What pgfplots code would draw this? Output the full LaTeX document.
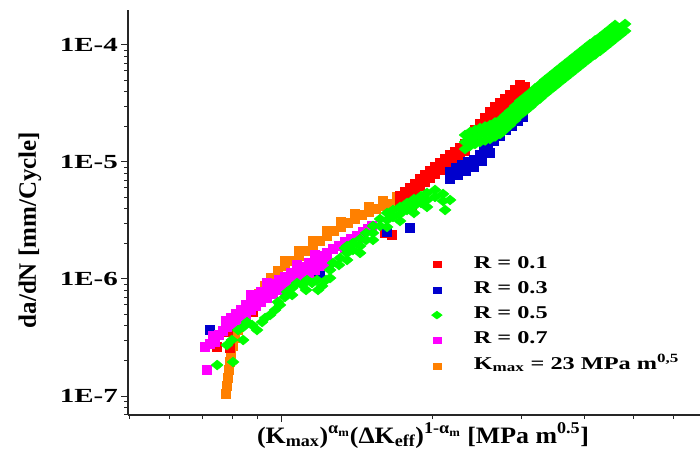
\documentclass[border=0pt]{standalone}
\usepackage{fontspec}
\setmainfont{Liberation Serif}
\usepackage{graphicx}
\usepackage{pgfplots}
\pgfplotsset{compat=1.18}
\definecolor{cred}{RGB}{255,0,0}
\definecolor{cblue}{RGB}{0,0,205}
\definecolor{cgreen}{RGB}{0,255,0}
\definecolor{cmag}{RGB}{255,0,255}
\definecolor{corange}{RGB}{255,128,0}
\newcommand{\tklab}[1]{\scalebox{1.45}[1]{\fontsize{20}{22}\selectfont\bfseries #1}}
\newcommand{\legtxt}[1]{\scalebox{1.35}[1]{\fontsize{18}{20}\selectfont\bfseries #1}}
\begin{document}
\begin{tikzpicture}
\useasboundingbox (0,0) rectangle (700pt,451pt);
\begin{axis}[
  at={(128pt,36pt)}, anchor=south west,
  scale only axis, width=572pt, height=405pt,
  xmode=log, ymode=log,
  xmin=4.97, xmax=67.8, ymin=6.88e-8, ymax=1.99e-4,
  axis lines=left, axis line style={-, line width=1.1pt, black!85},
  tick align=outside, major tick length=7pt, minor tick length=4pt,
  every tick/.style={line width=1pt, black!85},
  xtick={10}, minor xtick={5,6,7,8,9,20,30,40,50,60},
  xticklabels={},
  ytick={1e-7,1e-6,1e-5,1e-4},
  minor ytick={7e-8,8e-8,9e-8,2e-7,3e-7,4e-7,5e-7,6e-7,7e-7,8e-7,9e-7,2e-6,3e-6,4e-6,5e-6,6e-6,7e-6,8e-6,9e-6,2e-5,3e-5,4e-5,5e-5,6e-5,7e-5,8e-5,9e-5},
  yticklabels={\tklab{1E-7},\tklab{1E-6},\tklab{1E-5},\tklab{1E-4}},
  yticklabel style={anchor=east, inner sep=0pt, xshift=-3pt},
  xlabel={\scalebox{1.1}[1]{\fontsize{23.5}{26}\selectfont\bfseries (K\textsubscript{max})\textsuperscript{α\textsubscript{m}}(ΔK\textsubscript{eff})\textsuperscript{1-α\textsubscript{m}} [MPa m\textsuperscript{0.5}]}},
  xlabel style={at={(axis description cs:0.5157,-0.0691)}, anchor=base, inner sep=0pt},
  ylabel={\fontsize{25}{28}\selectfont\bfseries da/dN [mm/Cycle]},
  ylabel style={at={(axis description cs:-0.1713,0.4568)}, anchor=center, inner sep=0pt},
  legend style={at={(axis description cs:0.5306,0.3926)}, anchor=north west, draw=none, fill=none,
    inner sep=0pt, outer sep=0pt, row sep=8.3pt, column sep=31.5pt,
    nodes={inner sep=0pt, text height=12pt, text depth=5pt}},
  legend cell align=left,
]
\addlegendimage{only marks, mark=square*, mark size=3pt, color=cred, mark options={xscale=1.4}}
\addlegendentry{\legtxt{R = 0.1}}
\addlegendimage{only marks, mark=square*, mark size=3pt, color=cblue, mark options={xscale=1.4}}
\addlegendentry{\legtxt{R = 0.3}}
\addlegendimage{only marks, mark=diamond*, mark size=4pt, color=cgreen, mark options={xscale=1.8}}
\addlegendentry{\legtxt{R = 0.5}}
\addlegendimage{only marks, mark=square*, mark size=3pt, color=cmag, mark options={xscale=1.4}}
\addlegendentry{\legtxt{R = 0.7}}
\addlegendimage{only marks, mark=square*, mark size=3pt, color=corange, mark options={xscale=1.4}}
\addlegendentry{\legtxt{K\textsubscript{max} = 23 MPa m\textsuperscript{0,5}}}

% K_max = 23 MPa m^0.5
\addplot[only marks, mark=square*, mark size=4.5pt, color=corange, forget plot] coordinates {
(7.78,1.040e-7) (7.81,1.218e-7) (7.85,1.425e-7) (7.88,1.668e-7) (7.92,1.953e-7)
(7.96,2.286e-7) (8.03,2.676e-7) (8.11,3.131e-7) (8.22,3.665e-7) (8.37,4.375e-7)
(8.56,5.223e-7) (8.80,6.235e-7) (9.04,7.443e-7) (9.30,8.713e-7) (9.55,1.020e-6)
(9.86,1.171e-6) (10.18,1.292e-6) (10.52,1.425e-6) (10.86,1.573e-6) (11.21,1.735e-6)
(11.57,1.915e-6) (11.95,2.113e-6) (12.34,2.331e-6) (12.74,2.572e-6) (13.15,2.782e-6)
(13.58,3.010e-6) (14.02,3.256e-6) (14.48,3.523e-6) (14.95,3.736e-6) (15.43,3.964e-6)
(15.93,4.205e-6) (16.45,4.375e-6) (16.99,4.551e-6) (17.46,4.734e-6)
(10.18,1.447e-6) (10.86,1.762e-6) (11.57,2.145e-6) (12.34,2.611e-6) (13.15,3.116e-6)
(14.02,3.647e-6) (14.95,4.184e-6) (15.93,4.710e-6) (16.99,5.097e-6)
};
% R = 0.1
\addplot[only marks, mark=square*, mark size=4.5pt, color=cred, forget plot] coordinates {
(7.47,2.623e-7) (7.85,3.523e-7) (7.92,2.571e-7) (8.14,4.288e-7) (8.80,5.223e-7)
(11.79,1.148e-6) (16.08,2.473e-6) (16.61,2.378e-6) (18.19,4.290e-6)
(17.22,4.462e-6) (17.62,4.829e-6) (18.03,5.224e-6) (18.45,5.705e-6) (18.87,6.236e-6)
(19.31,6.746e-6) (19.75,7.298e-6) (20.21,7.897e-6) (20.68,8.543e-6) (21.16,9.244e-6)
(21.64,1.000e-5) (22.14,1.071e-5) (22.66,1.148e-5) (23.18,1.242e-5) (23.71,1.454e-5)
(24.26,1.636e-5) (24.82,1.841e-5) (25.40,2.071e-5) (25.98,2.331e-5) (26.58,2.572e-5)
(27.20,2.782e-5) (27.83,3.011e-5) (28.47,3.257e-5) (29.13,3.594e-5) (29.80,3.965e-5)
(30.49,4.376e-5)
(17.22,5.121e-6) (17.62,5.542e-6) (18.03,5.996e-6) (18.45,6.548e-6) (18.87,7.157e-6)
(19.31,7.742e-6) (19.75,8.376e-6) (20.21,9.063e-6) (20.68,9.805e-6) (21.16,1.061e-5)
(21.64,1.148e-5) (22.14,1.229e-5) (22.66,1.318e-5) (23.18,1.425e-5) (23.71,1.669e-5)
(24.26,1.878e-5) (24.82,2.113e-5) (25.40,2.377e-5) (25.98,2.675e-5) (26.58,2.952e-5)
(27.20,3.193e-5) (27.83,3.456e-5) (28.47,3.738e-5) (29.13,4.125e-5) (29.80,4.551e-5)
};
% R = 0.3
\addplot[only marks, mark=square*, mark size=4.5pt, color=cblue, forget plot] coordinates {
(7.23,3.665e-7) (8.41,5.223e-7) (11.79,1.171e-6) (11.95,1.103e-6) (16.23,2.522e-6)
(18.03,2.728e-6) (21.64,8.213e-6) (22.25,8.886e-6) (22.86,9.426e-6) (23.50,1.000e-5)
(24.15,1.040e-5) (24.82,1.148e-5) (25.28,1.317e-5) (25.75,1.397e-5) (26.46,1.512e-5)
(27.20,1.668e-5) (27.95,1.877e-5) (28.73,2.031e-5) (29.53,2.241e-5) (30.21,2.424e-5)
(21.64,7.155e-6) (22.45,7.743e-6) (23.28,8.377e-6) (24.15,9.063e-6) (25.05,1.020e-5)
(25.98,1.194e-5)
};
% R = 0.7
\addplot[only marks, mark=square*, mark size=4.5pt, color=cmag, forget plot] coordinates {
(7.13,1.668e-7) (7.07,2.623e-7) (7.23,2.782e-7) (7.40,2.893e-7) (7.33,3.256e-7)
(7.53,3.321e-7) (7.67,3.594e-7) (7.81,3.887e-7) (7.78,4.375e-7) (7.96,4.642e-7)
(8.14,5.022e-7) (8.33,5.433e-7) (8.52,5.995e-7) (8.72,6.614e-7) (8.92,7.155e-7)
(9.13,7.742e-7) (9.38,8.377e-7) (9.64,9.063e-7) (9.91,9.806e-7) (10.18,1.040e-6)
(10.47,1.125e-6) (10.76,1.194e-6) (11.06,1.267e-6) (11.37,1.371e-6) (11.68,1.454e-6)
(12.00,1.573e-6) (12.34,1.668e-6) (12.68,1.804e-6) (13.03,1.915e-6) (13.40,2.071e-6)
(13.77,2.197e-6) (14.15,2.331e-6) (14.54,2.522e-6) (14.88,2.676e-6) (15.15,2.838e-6)
(8.52,5.340e-7) (9.13,6.890e-7) (9.64,8.070e-7) (10.47,1.001e-6) (11.37,1.220e-6)
(12.34,1.485e-6) (13.40,1.843e-6) (14.54,2.245e-6)
(8.72,7.410e-7) (9.38,9.380e-7) (10.76,1.337e-6) (11.68,1.628e-6)
(8.14,4.125e-7) (8.33,4.462e-7) (8.52,4.924e-7) (8.72,5.432e-7) (8.92,5.876e-7)
(9.13,6.358e-7) (9.38,6.880e-7) (9.64,7.443e-7) (9.91,8.054e-7) (10.18,8.542e-7)
(10.47,9.240e-7) (10.76,9.806e-7) (11.06,1.041e-6) (11.37,1.126e-6) (11.68,1.194e-6)
(12.00,1.292e-6) (12.34,1.370e-6)
};
% R = 0.5, lower part
\addplot[only marks, mark=diamond*, mark size=5pt, color=cgreen, mark options={xscale=1.6}, forget plot] coordinates {
(7.47,1.840e-7) (8.03,1.953e-7) (7.81,2.727e-7) (7.99,3.010e-7) (8.22,3.665e-7)
(8.41,3.887e-7) (8.56,4.288e-7) (8.96,3.665e-7) (9.17,4.288e-7) (9.51,4.924e-7)
(9.73,5.433e-7) (9.95,5.995e-7) (10.18,7.017e-7) (10.28,7.742e-7) (10.52,8.377e-7)
(10.76,9.243e-7) (11.01,8.886e-7) (11.26,9.806e-7) (11.52,9.243e-7) (11.79,9.806e-7)
(12.06,8.713e-7) (12.28,9.806e-7) (12.51,1.194e-6) (12.68,1.371e-6) (13.09,1.512e-6)
(13.52,1.668e-6) (13.89,1.769e-6) (14.35,1.915e-6) (14.75,2.154e-6) (15.22,2.473e-6)
(15.72,2.838e-6) (16.23,3.194e-6) (16.68,3.388e-6) (17.22,3.594e-6) (17.78,3.887e-6)
(18.36,4.205e-6) (18.96,4.462e-6) (19.48,4.734e-6) (20.21,5.022e-6) (20.96,5.327e-6)
(21.64,4.734e-6) (21.16,3.887e-6) (13.40,1.841e-6)
(13.52,1.914e-6) (13.89,2.030e-6) (14.35,2.198e-6) (14.75,2.472e-6) (15.22,2.838e-6)
(15.72,3.257e-6) (16.23,3.666e-6) (16.68,3.888e-6) (17.22,4.125e-6) (17.78,4.461e-6)
(18.36,4.826e-6) (18.96,5.121e-6) (19.48,5.433e-6) (20.21,5.764e-6)
(13.52,1.453e-6) (14.35,1.669e-6) (15.22,2.155e-6) (16.23,2.783e-6) (17.22,3.131e-6)
(18.36,3.664e-6) (19.48,4.125e-6) (20.96,4.641e-6)
(8.76,4.045e-7) (9.30,4.642e-7) (9.86,6.358e-7) (10.52,7.300e-7) (11.21,8.054e-7)
(11.84,8.054e-7) (12.51,1.019e-6) (13.03,1.317e-6) (8.41,3.010e-7)
};
% R = 0.5, upper part
\addplot[only marks, mark=diamond*, mark size=5pt, color=cgreen, mark options={xscale=1.6}, forget plot] coordinates {
(23.18,1.482e-5) (23.71,1.572e-5) (24.26,1.636e-5) (24.82,1.701e-5) (25.40,1.752e-5)
(25.98,1.805e-5) (26.58,1.896e-5) (27.20,1.991e-5) (27.83,2.176e-5) (28.47,2.378e-5)
(29.13,2.623e-5) (29.80,2.894e-5) (30.49,3.131e-5) (31.19,3.388e-5) (31.91,3.702e-5)
(32.65,4.005e-5) (33.41,4.376e-5) (34.18,4.734e-5) (34.97,5.122e-5) (35.77,5.541e-5)
(36.60,5.995e-5) (37.45,6.486e-5) (38.31,7.017e-5) (39.20,7.592e-5) (40.10,8.213e-5)
(41.03,8.886e-5) (41.98,9.520e-5) (42.95,1.020e-4) (43.94,1.103e-4) (44.96,1.194e-4)
(45.99,1.292e-4) (47.06,1.397e-4) (48.14,1.512e-4)
(23.18,1.701e-5) (23.71,1.804e-5) (24.26,1.878e-5) (24.82,1.952e-5) (25.40,2.011e-5)
(25.98,2.072e-5) (26.58,2.176e-5) (27.20,2.285e-5) (27.83,2.497e-5) (28.47,2.729e-5)
(29.13,3.010e-5) (29.80,3.321e-5) (30.49,3.593e-5) (31.19,3.888e-5) (31.91,4.249e-5)
(32.65,4.597e-5) (33.41,5.022e-5) (34.18,5.433e-5) (34.97,5.879e-5) (35.77,6.359e-5)
(36.60,6.880e-5) (37.45,7.444e-5) (38.31,8.053e-5) (39.20,8.713e-5) (40.10,9.426e-5)
(41.03,1.020e-4) (41.98,1.093e-4) (42.95,1.171e-4) (43.94,1.266e-4) (44.96,1.370e-4)
(45.99,1.483e-4)
(23.18,1.291e-5) (23.71,1.370e-5) (24.26,1.425e-5) (24.82,1.482e-5) (25.40,1.527e-5)
(25.98,1.573e-5) (26.58,1.652e-5) (27.20,1.735e-5) (27.83,1.896e-5) (28.47,2.072e-5)
(29.13,2.285e-5) (29.80,2.522e-5) (30.49,2.728e-5) (31.19,2.952e-5) (31.91,3.226e-5)
(32.65,3.490e-5) (33.41,3.813e-5) (34.18,4.125e-5) (34.97,4.463e-5) (35.77,4.828e-5)
(36.60,5.223e-5) (37.45,5.651e-5) (38.31,6.114e-5) (39.20,6.615e-5) (40.10,7.156e-5)
(41.03,7.742e-5) (41.98,8.295e-5) (42.95,8.887e-5) (43.94,9.610e-5) (44.96,1.040e-4)
(45.99,1.126e-4) (47.06,1.217e-4) (48.14,1.317e-4)
};
\end{axis}
\end{tikzpicture}
\end{document}
